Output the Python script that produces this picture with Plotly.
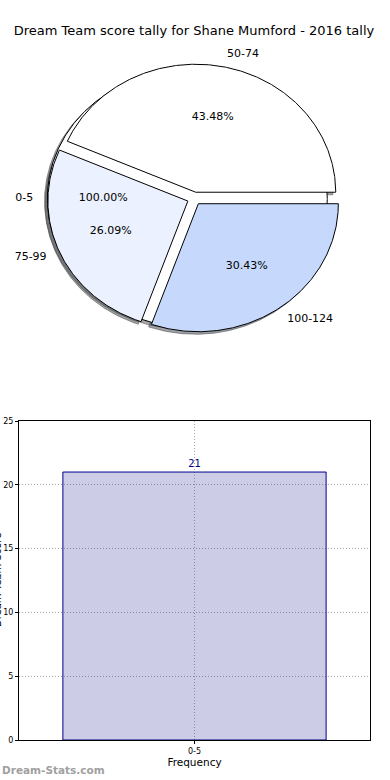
import numpy as np
import plotly.graph_objects as go

# ---------------- data ----------------
chart_title = "Dream Team score tally for Shane Mumford - 2016 tally"

# first (full) pie layer
outer_labels = ["0-5"]
outer_counts = [21]
outer_colors = ["#ffffff"]

# second pie layer
pie_labels = ["50-74", "75-99", "100-124"]
pie_counts = [10, 6, 7]
pie_colors = ["#ffffff", "#ebf1fe", "#c6d9fd"]

# bar chart
bar_categories = ["0-5"]
bar_values = [21]
y_ticks = [0, 5, 10, 15, 20, 25]

# ---------------- style / geometry constants ----------------
FONT = "DejaVu Sans"
CX, CY = 194.3, 198.5      # pie centre (pie axis units)
RX, RY = 140.0, 128.0      # pie radii (elliptical, like a non-equal-aspect axes)
EXPLODE = 0.05
SHADOW = (-0.02, -0.02)
LABEL_DIST = 1.1
PCT_DIST = 0.6

fig = go.Figure()


def wedge_geometry(counts):
    counts = np.asarray(counts, dtype=float)
    fr = counts / counts.sum()
    t = np.concatenate([[0.0], np.cumsum(fr) * 360.0])
    out = []
    for i in range(len(counts)):
        t1, t2 = t[i], t[i + 1]
        mid = np.deg2rad((t1 + t2) / 2.0)
        ox = EXPLODE * np.cos(mid)
        oy = EXPLODE * np.sin(mid)
        out.append((t1, t2, mid, ox, oy, fr[i]))
    return out


def wedge_path(t1, t2, ox, oy, dx=0.0, dy=0.0):
    full = abs((t2 - t1) - 360.0) < 1e-9
    n = max(int(abs(t2 - t1) * 2), 8)
    th = np.deg2rad(np.linspace(t1, t2, n))
    ux = ox + dx + np.cos(th)
    uy = oy + dy + np.sin(th)
    if not full:
        ux = np.concatenate([[ox + dx], ux, [ox + dx]])
        uy = np.concatenate([[oy + dy], uy, [oy + dy]])
    return CX + RX * ux, CY - RY * uy


layers = [
    (outer_labels, outer_counts, outer_colors),
    (pie_labels, pie_counts, pie_colors),
]
geoms = [wedge_geometry(c) for _, c, _ in layers]

# shadows (all beneath every wedge)
for (labels, counts, colors), geo in zip(layers, geoms):
    for (t1, t2, mid, ox, oy, f), col in zip(geo, colors):
        h = col.lstrip("#")
        r, g, b = (int(h[k:k + 2], 16) for k in (0, 2, 4))
        sc = f"rgba({int(r*0.3)},{int(g*0.3)},{int(b*0.3)},0.5)"
        xs, ys = wedge_path(t1, t2, ox, oy, SHADOW[0], SHADOW[1])
        fig.add_trace(go.Scatter(x=xs, y=ys, mode="lines", fill="toself",
                                 fillcolor=sc, line=dict(color=sc, width=1),
                                 hoverinfo="skip", showlegend=False,
                                 xaxis="x2", yaxis="y2"))

# wedges
for (labels, counts, colors), geo in zip(layers, geoms):
    for (t1, t2, mid, ox, oy, f), col, lab in zip(geo, colors, labels):
        xs, ys = wedge_path(t1, t2, ox, oy)
        fig.add_trace(go.Scatter(x=xs, y=ys, mode="lines", fill="toself",
                                 fillcolor=col, line=dict(color="black", width=1),
                                 name=lab, hoverinfo="name", showlegend=False,
                                 xaxis="x2", yaxis="y2"))

# labels and percentages
for (labels, counts, colors), geo in zip(layers, geoms):
    for (t1, t2, mid, ox, oy, f), lab in zip(geo, labels):
        lx = CX + RX * (ox + LABEL_DIST * np.cos(mid))
        ly = CY - RY * (oy + LABEL_DIST * np.sin(mid))
        pos = "middle right" if np.cos(mid) + ox > 0 else "middle left"
        fig.add_trace(go.Scatter(x=[lx], y=[ly], mode="text", text=[lab],
                                 textposition=pos, marker=dict(size=1),
                                 textfont=dict(family=FONT, size=11, color="black"),
                                 hoverinfo="skip", showlegend=False,
                                 xaxis="x2", yaxis="y2"))
        px = CX + RX * (ox + PCT_DIST * np.cos(mid))
        py = CY - RY * (oy + PCT_DIST * np.sin(mid))
        fig.add_trace(go.Scatter(x=[px], y=[py], mode="text", text=[f"{f*100:.2f}%"],
                                 textposition="middle center",
                                 textfont=dict(family=FONT, size=11, color="black"),
                                 hoverinfo="skip", showlegend=False,
                                 xaxis="x2", yaxis="y2"))

# bar chart
fig.add_trace(go.Bar(x=bar_categories, y=bar_values,
                     marker=dict(color="rgba(0,0,128,0.2)",
                                 line=dict(color="#00008b", width=1)),
                     text=[str(v) for v in bar_values], textposition="outside",
                     textfont=dict(family=FONT, size=10, color="#000080"),
                     cliponaxis=False, showlegend=False,
                     xaxis="x", yaxis="y"))

W, H = 390, 780
GRID = dict(showgrid=True, gridcolor="#a8a8a8", griddash="1px,2px", gridwidth=1)
fig.update_layout(
    width=W, height=H,
    margin=dict(l=0, r=0, t=0, b=0),
    paper_bgcolor="white", plot_bgcolor="white",
    font=dict(family=FONT, color="black"),
    bargap=0.25,
    title=dict(text=chart_title, x=194 / W, xanchor="center",
               y=1 - 30 / H, yanchor="middle",
               font=dict(family=FONT, size=13, color="black")),
    xaxis=dict(domain=[19 / W, 370 / W], anchor="y", range=[-0.5, 0.5],
               showline=True, mirror=True, linecolor="black", linewidth=1,
               ticks="outside", ticklen=3, tickcolor="black",
               tickfont=dict(family=FONT, size=8),
               title=dict(text="Frequency", font=dict(family=FONT, size=10.5),
                          standoff=2),
               automargin=False, **GRID),
    yaxis=dict(domain=[40 / H, 359 / H], anchor="x", range=[0, 25],
               tickvals=y_ticks,
               showline=True, mirror=True, linecolor="black", linewidth=1,
               ticks="outside", ticklen=3, tickcolor="black",
               tickfont=dict(family=FONT, size=8),
               zeroline=False, automargin=False, **GRID),
    xaxis2=dict(domain=[0, 1], anchor="y2", range=[0, W], visible=False),
    yaxis2=dict(domain=[0.5, 1], anchor="x2", range=[H / 2, 0], visible=False),
    annotations=[
        dict(text="Dream Team Score", xref="paper", yref="paper",
             x=-3 / W, y=1 - 580 / H, xanchor="center", yanchor="middle",
             textangle=-90, showarrow=False,
             font=dict(family=FONT, size=10, color="black")),
        dict(text="<b>Dream-Stats.com</b>", xref="paper", yref="paper",
             x=0, y=1 - 770 / H, xanchor="left", yanchor="middle",
             showarrow=False,
             font=dict(family=FONT, size=10.5, color="#a0a0a0")),
    ],
)

fig.write_html("out.html",
               config={"displayModeBar": False},
               post_script="document.body.style.margin='0px';"
                           "document.body.style.overflow='hidden';")
